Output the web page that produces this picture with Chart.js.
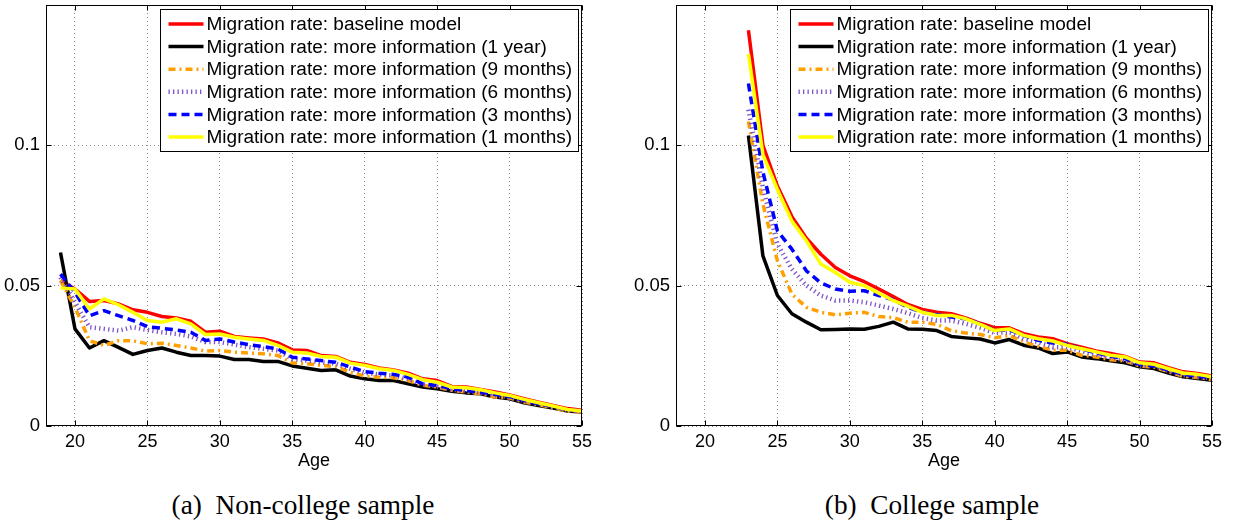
<!DOCTYPE html>
<html>
<head>
<meta charset="utf-8">
<script src="https://cdn.jsdelivr.net/npm/chart.js@4.4.1/dist/chart.umd.min.js"></script>
<style>
  html,body{margin:0;padding:0;background:#fff;}
  body{width:1233px;height:523px;position:relative;overflow:hidden;}
  .box{position:absolute;top:0;width:600px;height:474px;}
  .cap{position:absolute;top:490px;font-family:"Liberation Serif","DejaVu Serif",serif;font-size:24px;color:#000;white-space:nowrap;transform:translateX(-50%);}
</style>
</head>
<body>
<div class="box" style="left:0px"><canvas id="chartA"></canvas></div>
<div class="box" style="left:630px"><canvas id="chartB"></canvas></div>
<div class="cap" id="capA" style="left:303px">(a)&nbsp; Non-college sample</div>
<div class="cap" id="capB" style="left:932px">(b)&nbsp; College sample</div>
<script>
// ---------- data ----------
const xTicks = [20, 25, 30, 35, 40, 45, 50, 55];
const yTicks = [0, 0.05, 0.1];
const seriesNames = [
  "Migration rate: baseline model",
  "Migration rate: more information (1 year)",
  "Migration rate: more information (9 months)",
  "Migration rate: more information (6 months)",
  "Migration rate: more information (3 months)",
  "Migration rate: more information (1 months)"
];

// Non-college sample, ages 19..55
const agesNC = [19,20,21,22,23,24,25,26,27,28,29,30,31,32,33,34,35,36,37,38,39,40,41,42,43,44,45,46,47,48,49,50,51,52,53,54,55];
const ncBaseline = [0.0518,0.0488,0.0444,0.0447,0.0435,0.0414,0.0405,0.0390,0.0385,0.0373,0.0334,0.0338,0.0319,0.0314,0.0310,0.0296,0.0271,0.0269,0.0251,0.0248,0.0227,0.0219,0.0207,0.0200,0.0188,0.0168,0.0162,0.0141,0.0139,0.0130,0.0121,0.0111,0.0097,0.0085,0.0073,0.0062,0.0056];
const nc1year    = [0.0618,0.0346,0.0278,0.0304,0.0280,0.0255,0.0269,0.0278,0.0263,0.0251,0.0251,0.0249,0.0237,0.0237,0.0230,0.0230,0.0214,0.0206,0.0198,0.0200,0.0178,0.0168,0.0162,0.0162,0.0150,0.0139,0.0133,0.0124,0.0118,0.0115,0.0103,0.0097,0.0083,0.0073,0.0064,0.0053,0.0050];
const nc9months  = [0.0518,0.0423,0.0304,0.0287,0.0304,0.0304,0.0293,0.0295,0.0287,0.0278,0.0267,0.0269,0.0263,0.0260,0.0257,0.0251,0.0225,0.0222,0.0216,0.0212,0.0192,0.0178,0.0174,0.0172,0.0162,0.0145,0.0139,0.0127,0.0121,0.0115,0.0103,0.0100,0.0085,0.0076,0.0065,0.0053,0.0050];
const nc6months  = [0.0530,0.0441,0.0352,0.0346,0.0340,0.0352,0.0342,0.0334,0.0328,0.0319,0.0299,0.0299,0.0290,0.0281,0.0275,0.0269,0.0239,0.0233,0.0227,0.0222,0.0204,0.0190,0.0184,0.0180,0.0168,0.0148,0.0141,0.0129,0.0124,0.0118,0.0109,0.0103,0.0089,0.0079,0.0068,0.0056,0.0052];
const nc3months  = [0.0541,0.0476,0.0393,0.0411,0.0393,0.0376,0.0354,0.0348,0.0342,0.0334,0.0305,0.0310,0.0299,0.0290,0.0283,0.0275,0.0245,0.0239,0.0233,0.0227,0.0210,0.0194,0.0188,0.0184,0.0174,0.0150,0.0145,0.0133,0.0127,0.0121,0.0113,0.0105,0.0091,0.0079,0.0070,0.0058,0.0053];
const nc1months  = [0.0492,0.0488,0.0417,0.0453,0.0432,0.0405,0.0376,0.0370,0.0382,0.0364,0.0326,0.0328,0.0316,0.0310,0.0305,0.0287,0.0263,0.0260,0.0248,0.0245,0.0224,0.0216,0.0204,0.0198,0.0184,0.0165,0.0156,0.0139,0.0136,0.0129,0.0118,0.0109,0.0095,0.0083,0.0071,0.0059,0.0053];

// College sample, ages 23..55
const agesC = [23,24,25,26,27,28,29,30,31,32,33,34,35,36,37,38,39,40,41,42,43,44,45,46,47,48,49,50,51,52,53,54,55];
const cBaseline = [0.1410,0.1000,0.0855,0.0746,0.0669,0.0612,0.0565,0.0535,0.0514,0.0488,0.0461,0.0433,0.0415,0.0405,0.0400,0.0385,0.0366,0.0350,0.0350,0.0329,0.0317,0.0311,0.0293,0.0281,0.0267,0.0258,0.0248,0.0228,0.0225,0.0208,0.0193,0.0187,0.0178];
const c1year    = [0.1035,0.0606,0.0465,0.0400,0.0370,0.0343,0.0344,0.0346,0.0345,0.0355,0.0370,0.0346,0.0345,0.0340,0.0319,0.0314,0.0310,0.0296,0.0308,0.0288,0.0278,0.0258,0.0264,0.0246,0.0240,0.0232,0.0225,0.0211,0.0205,0.0189,0.0175,0.0169,0.0163];
const c9months  = [0.1085,0.0790,0.0589,0.0470,0.0423,0.0405,0.0396,0.0402,0.0405,0.0390,0.0386,0.0370,0.0370,0.0362,0.0340,0.0331,0.0326,0.0314,0.0323,0.0299,0.0284,0.0270,0.0270,0.0252,0.0246,0.0236,0.0232,0.0214,0.0210,0.0193,0.0177,0.0173,0.0165];
const c6months  = [0.1127,0.0849,0.0648,0.0559,0.0500,0.0465,0.0447,0.0447,0.0441,0.0429,0.0417,0.0402,0.0385,0.0376,0.0376,0.0364,0.0350,0.0331,0.0335,0.0311,0.0299,0.0281,0.0281,0.0267,0.0255,0.0244,0.0234,0.0216,0.0213,0.0196,0.0181,0.0175,0.0169];
const c3months  = [0.1220,0.0905,0.0695,0.0630,0.0553,0.0510,0.0488,0.0480,0.0482,0.0465,0.0450,0.0423,0.0405,0.0397,0.0388,0.0382,0.0364,0.0340,0.0343,0.0323,0.0305,0.0296,0.0291,0.0275,0.0260,0.0248,0.0240,0.0220,0.0214,0.0199,0.0184,0.0178,0.0171];
const c1months  = [0.1325,0.0967,0.0843,0.0730,0.0660,0.0577,0.0547,0.0512,0.0500,0.0473,0.0447,0.0427,0.0405,0.0394,0.0394,0.0382,0.0362,0.0340,0.0346,0.0323,0.0311,0.0303,0.0287,0.0275,0.0264,0.0252,0.0246,0.0225,0.0220,0.0204,0.0189,0.0184,0.0175];

// ---------- styles ----------
const styles = [
  {color:'#ff0000', width:3.5, dash:[]},
  {color:'#000000', width:3.5, dash:[]},
  {color:'rgb(255,160,0)', width:3.5, dash:[7,4,2,4]},
  {color:'rgb(125,85,200)', width:4.5, dash:[1.3,3.2]},
  {color:'#0000ff', width:3.5, dash:[8,5]},
  {color:'#ffff00', width:3.5, dash:[]}
];

const FONT = "'Liberation Sans', Arial, Helvetica, sans-serif";
Chart.defaults.font.family = FONT;
Chart.defaults.font.size = 18;
Chart.defaults.color = '#000';

function makeDatasets(ages, list){
  return list.map((vals, i) => ({
    label: seriesNames[i],
    data: ages.map((a, k) => ({x: a, y: vals[k]})),
    borderColor: styles[i].color,
    borderWidth: styles[i].width,
    borderDash: styles[i].dash,
    borderCapStyle: 'butt',
    borderJoinStyle: 'round',
    pointRadius: 0,
    tension: 0,
    fill: false,
    order: 6 - i
  }));
}

const framePlugin = {
  id: 'frameLegend',
  afterDraw(chart){
    const {ctx, chartArea: a, scales: {x, y}} = chart;
    ctx.save();
    // frame
    const L = Math.round(a.left) + 0.5, R = Math.round(a.right) - 0.5;
    const T = Math.round(a.top) + 0.5, B = Math.round(a.bottom) - 0.5;
    ctx.strokeStyle = '#000';
    ctx.lineWidth = 1;
    ctx.setLineDash([]);
    ctx.strokeRect(L, T, R - L, B - T);
    // inward ticks
    const tl = 5;
    ctx.beginPath();
    xTicks.forEach(v => {
      const px = Math.round(x.getPixelForValue(v)) + 0.5;
      ctx.moveTo(px, B); ctx.lineTo(px, B - tl);
      ctx.moveTo(px, T); ctx.lineTo(px, T + tl);
    });
    yTicks.forEach(v => {
      const py = Math.round(y.getPixelForValue(v)) + 0.5;
      ctx.moveTo(L, py); ctx.lineTo(L + tl, py);
      ctx.moveTo(R, py); ctx.lineTo(R - tl, py);
    });
    ctx.stroke();

    // legend box
    const w = 418, h = 142;
    const x0 = Math.round(a.right - 4 - w) + 0.5, y0 = Math.round(a.top + 4) + 0.5;
    ctx.fillStyle = '#fff';
    ctx.fillRect(x0, y0, w, h);
    ctx.strokeStyle = '#000';
    ctx.lineWidth = 1;
    ctx.strokeRect(x0, y0, w, h);
    ctx.font = '18px ' + FONT;
    let maxW = 0;
    seriesNames.forEach(s => { maxW = Math.max(maxW, ctx.measureText(s).width); });
    const fs = Math.min(20, 18 * 366 / maxW);
    ctx.font = fs.toFixed(2) + 'px ' + FONT;
    ctx.textBaseline = 'middle';
    ctx.textAlign = 'left';
    chart.data.datasets.forEach((ds, i) => {
      const cy = y0 + 14.5 + i * 22.6;
      ctx.beginPath();
      ctx.strokeStyle = ds.borderColor;
      ctx.lineWidth = ds.borderWidth;
      ctx.lineCap = 'butt';
      ctx.setLineDash(ds.borderDash);
      ctx.moveTo(x0 + 8, cy);
      ctx.lineTo(x0 + 43, cy);
      ctx.stroke();
      ctx.setLineDash([]);
      ctx.fillStyle = '#000';
      ctx.fillText(ds.label, x0 + 46, cy + 1);
    });
    ctx.restore();
  }
};

function makeChart(id, ages, list){
  new Chart(document.getElementById(id), {
    type: 'line',
    data: { datasets: makeDatasets(ages, list) },
    options: {
      responsive: true,
      maintainAspectRatio: false,
      animation: false,
      events: [],
      layout: { padding: { top: 5, right: 18, left: 0, bottom: 0 } },
      plugins: { legend: { display: false }, tooltip: { enabled: false } },
      scales: {
        x: {
          type: 'linear', min: 18, max: 55,
          afterBuildTicks: s => { s.ticks = xTicks.map(v => ({value: v})); },
          afterFit: s => { s.height = 48; s.paddingLeft = 0; s.paddingRight = 0; },
          ticks: { padding: 5, font: { size: 18 }, color: '#000', maxRotation: 0, autoSkip: false },
          grid: { color: '#8c8c8c', lineWidth: 1, drawTicks: false },
          border: { display: false, dash: [1, 3] },
          title: { display: true, text: 'Age', font: { size: 18 }, color: '#000', padding: { top: 0, bottom: 2 } }
        },
        y: {
          type: 'linear', min: 0, max: 0.15,
          afterBuildTicks: s => { s.ticks = yTicks.map(v => ({value: v})); },
          afterFit: s => { s.width = 46; s.paddingTop = 0; s.paddingBottom = 0; },
          ticks: { padding: 6, font: { size: 18.5 }, color: '#000', callback: v => String(+v.toFixed(2)) },
          grid: { color: '#8c8c8c', lineWidth: 1, drawTicks: false },
          border: { display: false, dash: [1, 3] }
        }
      }
    },
    plugins: [framePlugin]
  });
}

makeChart('chartA', agesNC, [ncBaseline, nc1year, nc9months, nc6months, nc3months, nc1months]);
makeChart('chartB', agesC, [cBaseline, c1year, c9months, c6months, c3months, c1months]);

// size captions to the reference width
(function(){
  const a = document.getElementById('capA'), b = document.getElementById('capB');
  const wA = a.getBoundingClientRect().width;
  const fs = 24 * 263 / wA;
  a.style.fontSize = fs + 'px';
  b.style.fontSize = fs + 'px';
  const hA = a.getBoundingClientRect().height;
  a.style.top = b.style.top = (505 - hA / 2) + 'px';
})();
</script>
</body>
</html>
